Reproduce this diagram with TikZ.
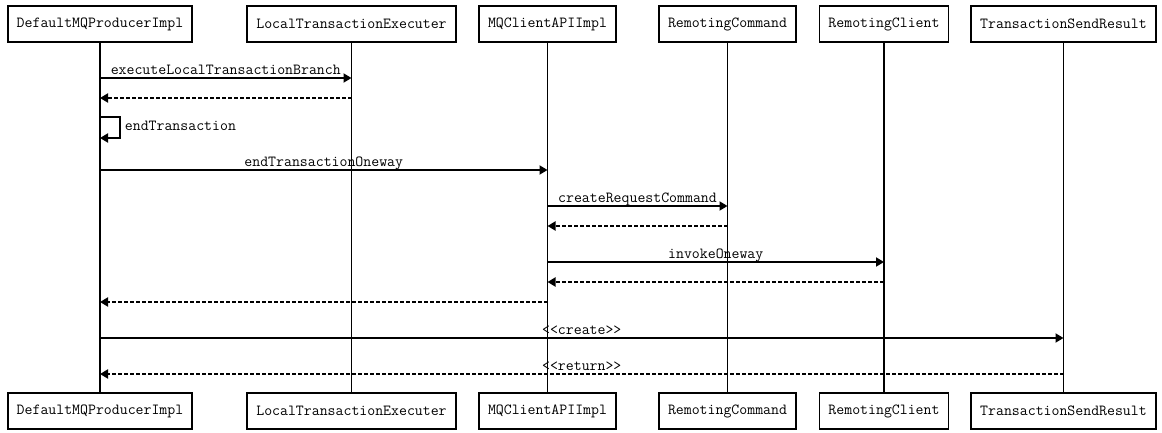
\documentclass[tikz,border=0pt]{standalone}
\usetikzlibrary{arrows.meta}
\begin{document}
\begin{tikzpicture}[x=1pt,y=-1pt,
  obj/.style={draw, line width=1.8pt, minimum height=36pt, inner xsep=9pt, font=\fontsize{15.4}{18}\ttfamily},
  life/.style={line width=1.8pt},
  msg/.style={line width=1.8pt, -{Triangle[length=8pt,width=9pt]}},
  ret/.style={msg, dash pattern=on 4pt off 2pt},
  lbl/.style={above=3pt, inner sep=0pt, text depth=0pt, font=\fontsize{15.4}{18}\ttfamily}]
\useasboundingbox (0,0) rectangle (1162,433);
%% 위쪽 객체
\node[obj] (dmp) at (100,24) {DefaultMQProducerImpl};
\node[obj] (lte) at (351.5,24) {LocalTransactionExecuter};
\node[obj] (mca) at (547.5,24) {MQClientAPIImpl};
\node[obj] (rcm) at (727.5,24) {RemotingCommand};
\node[obj] (rcl) at (884,24) {RemotingClient};
\node[obj] (tsr) at (1063.5,24) {TransactionSendResult};
%% 아래쪽 객체
\node[obj] (dmpB) at (100,411) {DefaultMQProducerImpl};
\node[obj] (lteB) at (351.5,411) {LocalTransactionExecuter};
\node[obj] (mcaB) at (547.5,411) {MQClientAPIImpl};
\node[obj] (rcmB) at (727.5,411) {RemotingCommand};
\node[obj] (rclB) at (884,411) {RemotingClient};
\node[obj] (tsrB) at (1063.5,411) {TransactionSendResult};
%% 생명선
\draw[life] (dmp.south) -- (dmpB.north);
\draw[life] (lte.south) -- (lteB.north);
\draw[life] (mca.south) -- (mcaB.north);
\draw[life] (rcm.south) -- (rcmB.north);
\draw[life] (rcl.south) -- (rclB.north);
\draw[life] (tsr.south) -- (tsrB.north);
%% 메시지 행
\coordinate (r1) at (0,78);
\coordinate (r2) at (0,98);
\coordinate (r3) at (0,117);
\coordinate (r3e) at (0,138);
\coordinate (r4) at (0,170);
\coordinate (r5) at (0,206);
\coordinate (r6) at (0,226);
\coordinate (r7) at (0,262);
\coordinate (r8) at (0,282);
\coordinate (r9) at (0,302);
\coordinate (r10) at (0,338);
\coordinate (r11) at (0,374);
%% 메시지
\draw[msg] (dmp |- r1) -- node[lbl] {executeLocalTransactionBranch} (lte |- r1);
\draw[ret] (lte |- r2) -- (dmp |- r2);
\draw[msg] (dmp |- r3) -- ++(20,0) |- node[pos=0.25, right=4pt, inner sep=0pt, yshift=2pt, font=\fontsize{15.4}{18}\ttfamily] {endTransaction} (dmp |- r3e);
\draw[msg] (dmp |- r4) -- node[lbl] {endTransactionOneway} (mca |- r4);
\draw[msg] (mca |- r5) -- node[lbl] {createRequestCommand} (rcm |- r5);
\draw[ret] (rcm |- r6) -- (mca |- r6);
\draw[msg] (mca |- r7) -- node[lbl] {invokeOneway} (rcl |- r7);
\draw[ret] (rcl |- r8) -- (mca |- r8);
\draw[ret] (mca |- r9) -- (dmp |- r9);
\draw[msg] (dmp |- r10) -- node[lbl] {<\kern0pt<create>\kern0pt>} (tsr |- r10);
\draw[ret] (tsr |- r11) -- node[lbl] {<\kern0pt<return>\kern0pt>} (dmp |- r11);
\end{tikzpicture}
\end{document}
